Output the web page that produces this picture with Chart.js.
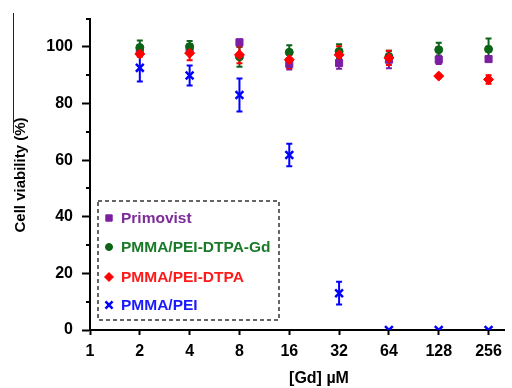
<!DOCTYPE html>
<html>
<head>
<meta charset="utf-8">
<script src="https://cdn.jsdelivr.net/npm/chart.js@4.4.1/dist/chart.umd.min.js"></script>
<style>
  html, body { margin: 0; padding: 0; background: #fff; }
  #chart { display: block; }
</style>
</head>
<body>
<canvas id="chart" width="512" height="388"></canvas>
<script>
// [Gd] concentrations (uM), plotted on a log2 axis
const concentrations = [2, 4, 8, 16, 32, 64, 128, 256];

const primovist    = [98.4, 99.5, 101.6, 94.0, 94.3, 95.5, 95.5, 95.7];
const primovistErr = [1.5, 1.5, 1.0, 2.0, 2.0, 3.0, 1.5, 0.5];

const gdNano    = [99.8, 100.1, 96.5, 98.1, 98.4, 96.6, 99.0, 99.2];
const gdNanoErr = [2.5, 2.0, 3.5, 2.5, 2.5, 2.0, 2.5, 3.8];

const dtpaNano    = [97.5, 97.8, 97.2, 95.5, 97.2, 96.1, 89.7, 88.5];
const dtpaNanoErr = [1.0, 2.5, 3.0, 3.0, 3.0, 2.5, 0.5, 1.5];

const peiNano    = [92.6, 89.9, 83.0, 61.8, 13.0, 0, 0, 0];
const peiNanoErr = [4.8, 3.5, 5.8, 4.0, 4.0, 0, 0, 0];

const FONT = "'Liberation Sans', Arial, sans-serif";

const SERIES = [
  { label: 'Primovist',        data: primovist, err: primovistErr, color: '#7b1fa2', text: '#7d2a9a', style: 'rect',     radius: 5,   order: 4 },
  { label: 'PMMA/PEI-DTPA-Gd', data: gdNano,    err: gdNanoErr,    color: '#0b6316', text: '#1b7a2a', style: 'circle',   radius: 4,   order: 3 },
  { label: 'PMMA/PEI-DTPA',    data: dtpaNano,  err: dtpaNanoErr,  color: '#ff0000', text: '#ff1a1a', style: 'rectRot',  radius: 5,   order: 2 },
  { label: 'PMMA/PEI',         data: peiNano,   err: peiNanoErr,   color: '#0000ff', text: '#1a1aff', style: 'crossRot', radius: 5.5, order: 1 },
];

const log2 = v => Math.log(v) / Math.LN2;

/** error bars drawn under the markers, through the chart scales */
const errorBars = {
  id: 'errorBars',
  beforeDatasetsDraw(chart) {
    const { ctx, scales: { x, y } } = chart;
    ctx.save();
    ctx.lineWidth = 2;
    chart.data.datasets.forEach(ds => {
      ctx.strokeStyle = ds.borderColor;
      ds.data.forEach((pt, i) => {
        const e = ds.errors[i];
        if (!e) return;
        const px = x.getPixelForValue(pt.x);
        const top = y.getPixelForValue(pt.y + e);
        const bot = y.getPixelForValue(pt.y - e);
        ctx.beginPath();
        ctx.moveTo(px, top); ctx.lineTo(px, bot);
        ctx.moveTo(px - 3, top); ctx.lineTo(px + 3, top);
        ctx.moveTo(px - 3, bot); ctx.lineTo(px + 3, bot);
        ctx.stroke();
      });
    });
    ctx.restore();
  },
};

/** minor y ticks, axis titles and the dashed legend box */
const decorations = {
  id: 'decorations',
  afterDraw(chart) {
    const { ctx, scales: { y } } = chart;
    ctx.save();
    ctx.strokeStyle = '#000';
    ctx.lineWidth = 2;
    for (let v = 10; v <= 110; v += 20) {
      const py = Math.round(y.getPixelForValue(v));
      ctx.beginPath();
      ctx.moveTo(86, py); ctx.lineTo(90, py);
      ctx.stroke();
    }

    // thin stray rule on the left of the original figure
    ctx.lineWidth = 1;
    ctx.strokeStyle = '#222';
    ctx.beginPath();
    ctx.moveTo(13.5, 13); ctx.lineTo(13.5, 133);
    ctx.stroke();

    ctx.fillStyle = '#000';
    ctx.font = `bold 15px ${FONT}`;
    ctx.textAlign = 'center';
    ctx.textBaseline = 'middle';
    ctx.save();
    ctx.translate(21, 175);
    ctx.rotate(-Math.PI / 2);
    ctx.fillText('Cell viability (%)', 0, 0);
    ctx.restore();

    ctx.font = `bold 16px ${FONT}`;
    ctx.fillText('[Gd] \u00b5M', 319, 379);

    // legend
    ctx.strokeStyle = '#333';
    ctx.lineWidth = 1.5;
    ctx.setLineDash([4, 3]);
    ctx.strokeRect(98, 201, 181, 119);
    ctx.setLineDash([]);
    const rows = [218, 247, 277, 305];
    ctx.textAlign = 'left';
    ctx.font = `bold 15.5px ${FONT}`;
    SERIES.forEach((s, i) => {
      const cross = s.style === 'crossRot';
      ctx.fillStyle = s.color;
      ctx.strokeStyle = s.color;
      ctx.lineWidth = cross ? 2.5 : 1;
      Chart.helpers.drawPoint(ctx, {
        pointStyle: s.style, radius: s.radius - 0.5, rotation: 0, borderWidth: ctx.lineWidth,
      }, 109, rows[i]);
      ctx.fillStyle = s.text;
      ctx.fillText(s.label, 121, rows[i] + 1);
    });
    ctx.restore();
  },
};

new Chart(document.getElementById('chart'), {
  type: 'scatter',
  data: {
    datasets: SERIES.map(s => ({
      label: s.label,
      data: concentrations.map((c, i) => ({ x: log2(c), y: s.data[i] })),
      errors: s.err,
      pointStyle: s.style,
      pointRadius: s.radius,
      pointHoverRadius: s.radius,
      backgroundColor: s.color,
      borderColor: s.color,
      pointBorderWidth: s.style === 'crossRot' ? 2.5 : 1,
      order: s.order,
    })),
  },
  options: {
    responsive: false,
    animation: false,
    events: [],
    layout: { padding: { top: 13, right: 0, left: 0, bottom: 0 } },
    plugins: { legend: { display: false }, tooltip: { enabled: false } },
    scales: {
      x: {
        type: 'linear',
        min: 0,
        max: 8.31,
        afterFit: s => { s.height = 58; },
        border: { display: true, color: '#000', width: 2 },
        grid: { drawOnChartArea: false, drawTicks: true, tickLength: 5, tickColor: '#000', tickWidth: 2 },
        ticks: {
          stepSize: 1,
          includeBounds: false,
          padding: 7,
          color: '#000',
          font: { family: FONT, size: 16, weight: 'bold' },
          callback: v => Number.isInteger(v) ? String(2 ** v) : '',
        },
      },
      y: {
        min: 0,
        max: 110,
        afterFit: s => { s.width = 90; },
        border: { display: true, color: '#000', width: 2 },
        grid: { drawOnChartArea: false, drawTicks: true, tickLength: 8, tickColor: '#000', tickWidth: 2 },
        ticks: {
          stepSize: 20,
          includeBounds: false,
          padding: 9,
          color: '#000',
          font: { family: FONT, size: 16, weight: 'bold' },
        },
      },
    },
  },
  plugins: [errorBars, decorations],
});
</script>
</body>
</html>
